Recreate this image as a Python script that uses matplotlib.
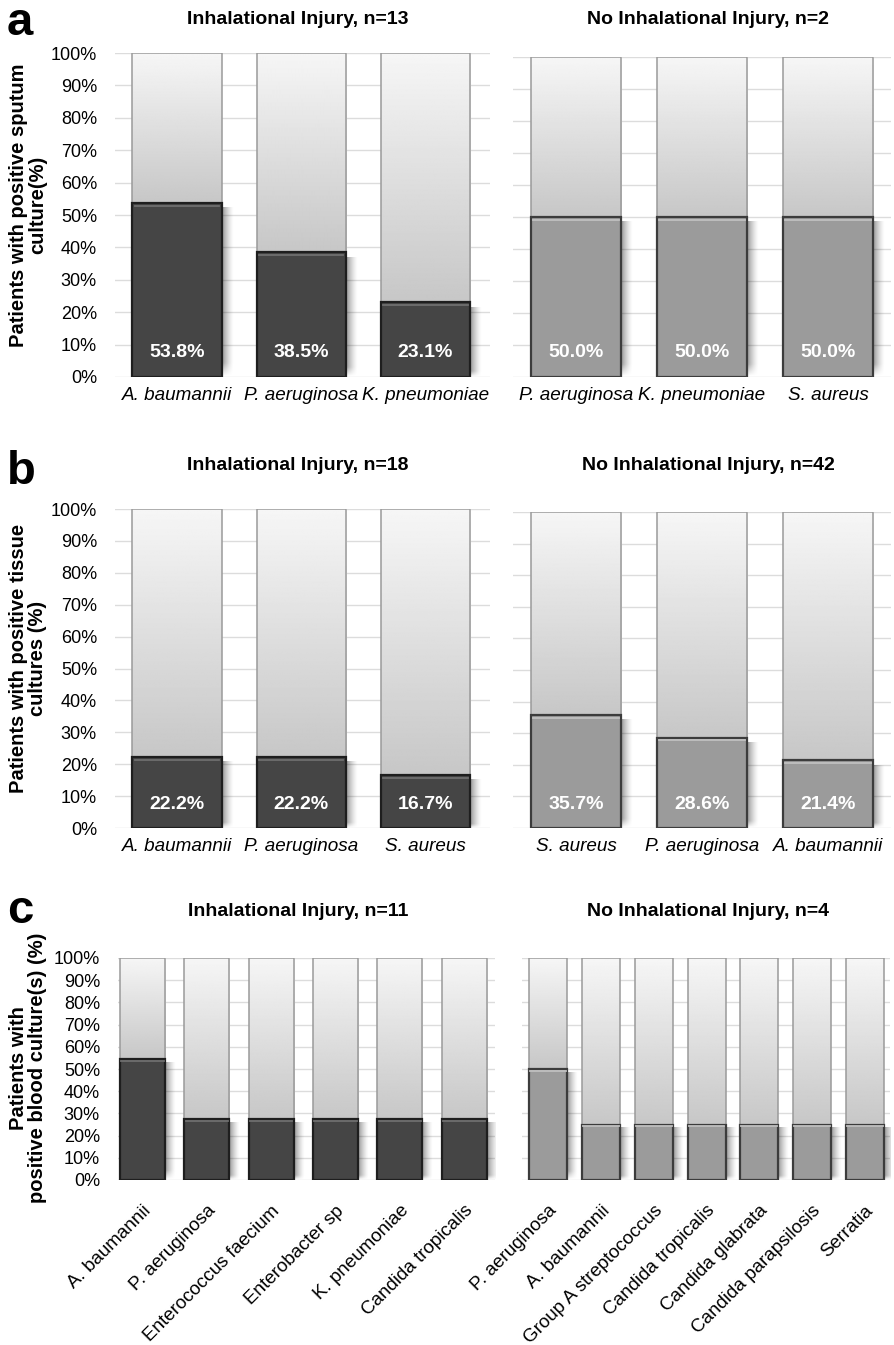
import matplotlib
matplotlib.use('Agg')
import matplotlib.pyplot as plt
import numpy as np
from matplotlib.patches import Rectangle

plt.rcParams['font.family'] = ['Liberation Sans', 'DejaVu Sans']

W, H = 894, 1345

# ---- data ----
a_inh_names = ["A. baumannii", "P. aeruginosa", "K. pneumoniae"]
a_inh_vals = [53.8, 38.5, 23.1]
a_no_names = ["P. aeruginosa", "K. pneumoniae", "S. aureus"]
a_no_vals = [50.0, 50.0, 50.0]

b_inh_names = ["A. baumannii", "P. aeruginosa", "S. aureus"]
b_inh_vals = [22.2, 22.2, 16.7]
b_no_names = ["S. aureus", "P. aeruginosa", "A. baumannii"]
b_no_vals = [35.7, 28.6, 21.4]

c_inh_names = ["A. baumannii", "P. aeruginosa", "Enterococcus faecium",
               "Enterobacter sp", "K. pneumoniae", "Candida tropicalis"]
c_inh_vals = [54.5, 27.3, 27.3, 27.3, 27.3, 27.3]
c_no_names = ["P. aeruginosa", "A. baumannii", "Group A streptococcus",
              "Candida tropicalis", "Candida glabrata", "Candida parapsilosis",
              "Serratia"]
c_no_vals = [50.0, 25.0, 25.0, 25.0, 25.0, 25.0, 25.0]

yticks = list(range(0, 101, 10))
ytick_labels = [f"{t}%" for t in yticks]

DARK = dict(face="#454545", edge="#1e1e1e", bevel="#6e6e6e")
MID = dict(face="#9b9b9b", edge="#3c3c3c", bevel="#c0c0c0")

fig = plt.figure(figsize=(W / 100, H / 100), dpi=100)

# shadow image: dark at left, fading to the right and near the top
_sx = np.linspace(0, 1, 40)
_sy = np.linspace(0, 1, 80)[:, None]
SHADOW = np.zeros((80, 40, 4))
SHADOW[..., 3] = 0.42 * (1 - _sx) ** 1.4 * np.clip(_sy / 0.08, 0, 1)


def px_axes(x0, x1, ytop, ybot):
    return fig.add_axes([x0 / W, 1 - ybot / H, (x1 - x0) / W, (ybot - ytop) / H])


def draw_panel(ax, names, vals, style, xlim, width, show_y, show_pct,
               rotate=False, label_size=13.6, shadow_w=0.09):
    n = len(names)
    xs = np.arange(n)
    for y in yticks:
        ax.axhline(y, color="#dcdcdc", lw=1, zorder=0)
    for x, v in zip(xs, vals):
        x0 = x - width / 2
        # light gradient background (100% bar)
        grad = np.linspace(0.965, 0.78, 200).reshape(-1, 1)
        ax.imshow(grad, extent=(x0, x0 + width, v, 100), origin="upper",
                  cmap="gray", vmin=0, vmax=1, aspect="auto",
                  interpolation="bilinear", zorder=1)
        ax.add_patch(Rectangle((x0, v), width, 100 - v, fill=False,
                               ec="#9a9a9a", lw=1.1, zorder=2))
        # shadow on the right of the filled part
        ax.imshow(SHADOW, extent=(x0 + width, x0 + width + shadow_w, 0, v - 1.5),
                  origin="lower", aspect="auto", interpolation="bilinear",
                  zorder=1.5)
        ax.add_patch(Rectangle((x0, 0), width, v, fc=style["face"],
                               ec=style["edge"], lw=1.6, zorder=3))
        ax.plot([x0 + 0.02, x0 + width - 0.02], [v - 0.9, v - 0.9],
                color=style["bevel"], lw=1.3, zorder=4)
        if show_pct:
            ax.text(x, 7.5, f"{v:.1f}%", ha="center", va="center",
                    color="white", fontsize=14, fontweight="bold", zorder=5)
    ax.set_xlim(*xlim)
    ax.set_ylim(0, 100)
    for s in ax.spines.values():
        s.set_visible(False)
    ax.tick_params(length=0)
    ax.set_yticks(yticks)
    if show_y:
        ax.set_yticklabels(ytick_labels, fontsize=13)
        ax.tick_params(axis="y", pad=13)
    else:
        ax.set_yticklabels([])
    ax.set_xticks(xs)
    if rotate:
        ax.set_xticklabels(names, rotation=45, ha="right",
                           rotation_mode="anchor", fontsize=13.5)
        ax.tick_params(axis="x", pad=16)
    else:
        ax.set_xticklabels(names, fontsize=label_size, style="italic")
        ax.tick_params(axis="x", pad=7)


# ---- panel a ----
ax = px_axes(115, 490, 53, 377)
draw_panel(ax, a_inh_names, a_inh_vals, DARK, (-0.5, 2.52), 0.72, True, True)
ax = px_axes(513, 891, 57, 377)
draw_panel(ax, a_no_names, a_no_vals, MID, (-0.5, 2.5), 0.72, False, True)

# ---- panel b ----
ax = px_axes(115, 490, 509, 828)
draw_panel(ax, b_inh_names, b_inh_vals, DARK, (-0.5, 2.52), 0.72, True, True)
ax = px_axes(513, 891, 512, 828)
draw_panel(ax, b_no_names, b_no_vals, MID, (-0.5, 2.5), 0.72, False, True)

# ---- panel c ----
ax = px_axes(118, 495, 958, 1180)
draw_panel(ax, c_inh_names, c_inh_vals, DARK, (-0.38, 5.48), 0.70, True, False,
           rotate=True, shadow_w=0.17)
ax = px_axes(522, 890, 958, 1180)
draw_panel(ax, c_no_names, c_no_vals, MID, (-0.5, 6.48), 0.72, False, False,
           rotate=True, shadow_w=0.2)

# ---- titles, letters, y labels ----
titles = [
    ("a", "Inhalational Injury, n=13", "No Inhalational Injury, n=2", 20, 35),
    ("b", "Inhalational Injury, n=18", "No Inhalational Injury, n=42", 465, 484),
    ("c", "Inhalational Injury, n=11", "No Inhalational Injury, n=4", 912, 923),
]
for letter, t1, t2, yy, base in titles:
    fig.text(7 / W, 1 - base / H, letter, fontsize=34, fontweight="bold",
             ha="left", va="baseline")
    fig.text(298 / W, 1 - yy / H, t1, fontsize=14, fontweight="bold",
             ha="center", va="center")
    fig.text(708 / W, 1 - yy / H, t2, fontsize=14, fontweight="bold",
             ha="center", va="center")

ylabels = [
    ("Patients with positive sputum\nculture(%)", 205),
    ("Patients with positive tissue\ncultures (%)", 658),
    ("Patients with\npositive blood culture(s) (%)", 1068),
]
for lab, yy in ylabels:
    fig.text(28 / W, 1 - yy / H, lab, rotation=90, fontsize=14.5,
             fontweight="bold", ha="center", va="center", linespacing=1.0)

fig.savefig("out.png", dpi=100)
